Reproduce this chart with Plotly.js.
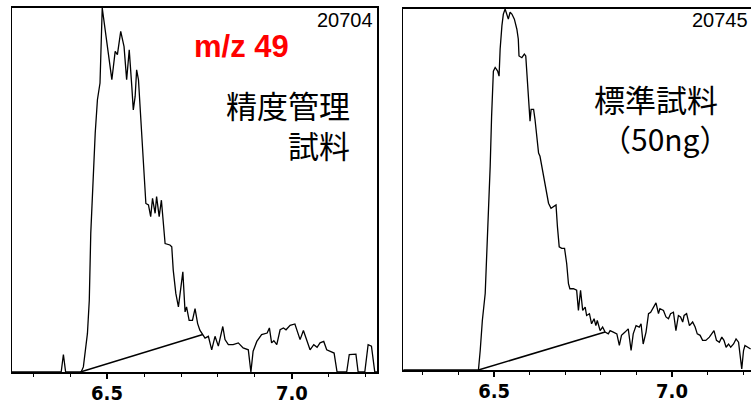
<!DOCTYPE html>
<html>
<head>
<meta charset="utf-8">
<script src="https://cdn.plot.ly/plotly-3.0.1.min.js"></script>
<style>html,body{margin:0;padding:0;background:#fff;}#chart{width:751px;height:405px;}</style>
</head>
<body>
<div id="chart"></div>
<script>
// Left panel: QC sample (精度管理試料), m/z 49
const qcTime = [6.243,6.376,6.382,6.388,6.430,6.436,6.447,6.452,6.456,6.461,6.468,6.474,6.481,6.487,6.499,6.513,6.522,6.528,6.537,6.546,6.553,6.560,6.567,6.571,6.576,6.580,6.585,6.589,6.594,6.600,6.605,6.612,6.618,6.623,6.630,6.634,6.641,6.647,6.652,6.657,6.670,6.675,6.679,6.686,6.693,6.699,6.705,6.711,6.715,6.722,6.731,6.738,6.745,6.751,6.756,6.765,6.774,6.783,6.792,6.801,6.813,6.819,6.828,6.841,6.855,6.868,6.882,6.889,6.895,6.905,6.918,6.933,6.939,6.945,6.951,6.959,6.968,6.977,6.984,6.995,7.008,7.017,7.022,7.031,7.038,7.049,7.059,7.068,7.076,7.086,7.094,7.105,7.114,7.122,7.148,7.155,7.173,7.179,7.197,7.206,7.215,7.224,7.235];
const qcSignal = [0,0,4.8,0,0,1.4,10.6,19.7,38.1,51.8,65.6,74.8,79.4,100,90.4,80.3,88.1,87.2,93.6,89.4,80.3,88.5,78.4,72.0,75.7,83.0,80.3,73.9,63.8,54.6,46.3,45.9,42.7,47.7,43.6,48.2,42.7,47.2,41.7,35.3,34.9,34.4,28.0,21.6,17.9,22.5,27.5,16.5,17.9,14.2,14.2,17.4,13.3,11.5,10.6,9.3,9.8,6.1,9.8,7.1,12.5,8.9,7.5,7.5,8.0,6.6,6.1,0,5.7,8.4,10.3,10.7,12.1,8.0,8.6,7.5,11.6,12.1,11.6,12.8,13.2,10.3,8.9,11.4,9.3,6.1,7.5,6.8,8.0,8.4,6.1,5.7,5.2,0,0,4.8,4.9,0,0,7.5,7.1,0,0];
const qcBaseTime = [6.428, 6.759];
const qcBaseSignal = [0, 10.3];

// Right panel: standard sample (標準試料 50ng)
const stdTime = [6.245,6.456,6.461,6.467,6.475,6.482,6.489,6.493,6.498,6.503,6.510,6.514,6.517,6.522,6.526,6.531,6.536,6.540,6.545,6.550,6.557,6.564,6.568,6.570,6.578,6.585,6.589,6.594,6.598,6.601,6.604,6.611,6.615,6.620,6.625,6.629,6.634,6.643,6.653,6.660,6.667,6.674,6.678,6.683,6.690,6.698,6.704,6.709,6.713,6.723,6.732,6.737,6.743,6.749,6.756,6.760,6.768,6.774,6.781,6.786,6.790,6.798,6.805,6.812,6.821,6.826,6.835,6.845,6.852,6.858,6.868,6.877,6.885,6.891,6.899,6.908,6.913,6.919,6.927,6.934,6.940,6.948,6.955,6.962,6.966,6.976,6.983,6.990,6.996,7.004,7.011,7.018,7.024,7.030,7.034,7.041,7.049,7.058,7.065,7.071,7.079,7.086,7.095,7.105,7.111,7.118,7.125,7.133,7.140,7.146,7.152,7.159,7.165,7.173,7.180,7.187,7.196,7.201,7.205,7.214,7.221];
const stdSignal = [0,0,5.4,13.7,21.2,37.8,56.4,70.3,82.8,83.8,82.8,81.4,88.9,95.4,98.6,100,98.6,97.2,99.1,98.6,97.2,94.4,91.7,87.0,86.5,87.5,87.0,80.1,71.7,68.9,72.2,72.2,69.4,63.8,60.1,59.2,56.4,50.8,46.2,44.8,45.3,45.7,39.7,34.1,33.7,33.7,29.5,23.9,22.5,22.5,22.1,16.5,22.1,16.5,17.4,15.1,15.6,12.8,14.2,12.3,13.7,10.9,11.9,10.5,10.0,10.9,10.5,10.0,6.8,9.6,10.5,11.4,5.4,10.0,12.3,11.9,12.8,7.2,10.5,15.6,16.0,17.4,18.6,15.6,17.0,16.5,14.7,14.2,15.6,16.0,10.9,15.1,14.7,13.3,15.1,15.6,12.3,13.3,11.9,10.0,9.6,8.2,8.2,9.1,10.0,10.9,8.2,7.7,9.1,8.2,6.3,7.2,6.3,7.2,8.6,7.7,0.3,5.4,6.8,6.3,5.8];
const stdBaseTime = [6.456, 6.812];
const stdBaseSignal = [0, 10.5];

const tickVals = [6.5, 7.0];
const tickText = ['6.5', '7.0'];

const W = 751, H = 405;
const px = v => v / W;
const py = v => 1 - v / H;

const lineStyle = {color: '#000', width: 1.3};
const traces = [
  {x: qcTime, y: qcSignal, xaxis: 'x', yaxis: 'y', mode: 'lines', line: lineStyle, hoverinfo: 'skip'},
  {x: qcBaseTime, y: qcBaseSignal, xaxis: 'x', yaxis: 'y', mode: 'lines', line: {color: '#000', width: 1.5}, hoverinfo: 'skip'},
  {x: stdTime, y: stdSignal, xaxis: 'x2', yaxis: 'y2', mode: 'lines', line: lineStyle, hoverinfo: 'skip'},
  {x: stdBaseTime, y: stdBaseSignal, xaxis: 'x2', yaxis: 'y2', mode: 'lines', line: {color: '#000', width: 1.5}, hoverinfo: 'skip'}
];

const tickFont = {family: '"Liberation Sans Narrow", "DejaVu Sans Condensed", "Liberation Sans", sans-serif', size: 20, color: '#000', weight: 'bold'};
function xAxis(domain, range) {
  return {
    domain: domain, range: range, showgrid: false, zeroline: false,
    showline: true, linecolor: '#000', linewidth: 2, mirror: true,
    ticks: 'outside', ticklen: 5, tickwidth: 1.5, tickcolor: '#000',
    tickmode: 'array', tickvals: tickVals, ticktext: tickText,
    tickfont: tickFont, ticklabelstandoff: -3,
    minor: {tickmode: 'linear', tick0: 6.0, dtick: 0.1, ticks: 'outside', ticklen: 3, tickwidth: 1, tickcolor: '#000', showgrid: false},
    fixedrange: true
  };
}
function yAxis(domain, anchor, mirror) {
  return {
    domain: domain, range: [0, 100], anchor: anchor, showgrid: false, zeroline: false,
    showline: true, linecolor: '#000', linewidth: 1.5, mirror: mirror,
    ticks: '', showticklabels: false, fixedrange: true
  };
}

const jp = '"Noto Sans CJK JP", "Noto Sans", sans-serif';
const layout = {
  width: W, height: H,
  margin: {l: 0, r: 0, t: 0, b: 0},
  paper_bgcolor: '#fff', plot_bgcolor: '#fff',
  showlegend: false,
  xaxis: Object.assign(xAxis([px(12), px(377)], [6.243, 7.230]), {anchor: 'y'}),
  yaxis: yAxis([py(372), py(8)], 'x', true),
  xaxis2: Object.assign(xAxis([px(403), 1], [6.244, 7.222]), {anchor: 'y2'}),
  yaxis2: yAxis([py(370), py(9)], 'x2', false),
  annotations: [
    {xref: 'paper', yref: 'paper', x: px(241), y: py(46), text: 'm/z 49', showarrow: false,
     xanchor: 'center', yanchor: 'middle', font: {family: '"Liberation Sans", Arial, sans-serif', size: 31, color: '#ff0000', weight: 'bold'}},
    {xref: 'paper', yref: 'paper', x: px(375), y: py(20), text: '20704', showarrow: false,
     xanchor: 'right', yanchor: 'middle', font: {family: '"Liberation Sans", Arial, sans-serif', size: 20, color: '#000'}},
    {xref: 'paper', yref: 'paper', x: px(750), y: py(20), text: '20745', showarrow: false,
     xanchor: 'right', yanchor: 'middle', font: {family: '"Liberation Sans", Arial, sans-serif', size: 20, color: '#000'}},
    {xref: 'paper', yref: 'paper', x: px(352), y: py(124), text: '精度管理<br>試料', showarrow: false, align: 'right',
     xanchor: 'right', yanchor: 'middle', font: {family: jp, size: 31, color: '#000'}},
    {xref: 'paper', yref: 'paper', x: px(720), y: py(98), text: '標準試料', showarrow: false,
     xanchor: 'right', yanchor: 'middle', font: {family: jp, size: 31, color: '#000'}},
    {xref: 'paper', yref: 'paper', x: px(665), y: py(138), text: '（50ng）', showarrow: false,
     xanchor: 'center', yanchor: 'middle', font: {family: jp, size: 30, color: '#000'}}
  ]
};

Plotly.newPlot('chart', traces, layout, {displayModeBar: false, staticPlot: true});
</script>
</body>
</html>
